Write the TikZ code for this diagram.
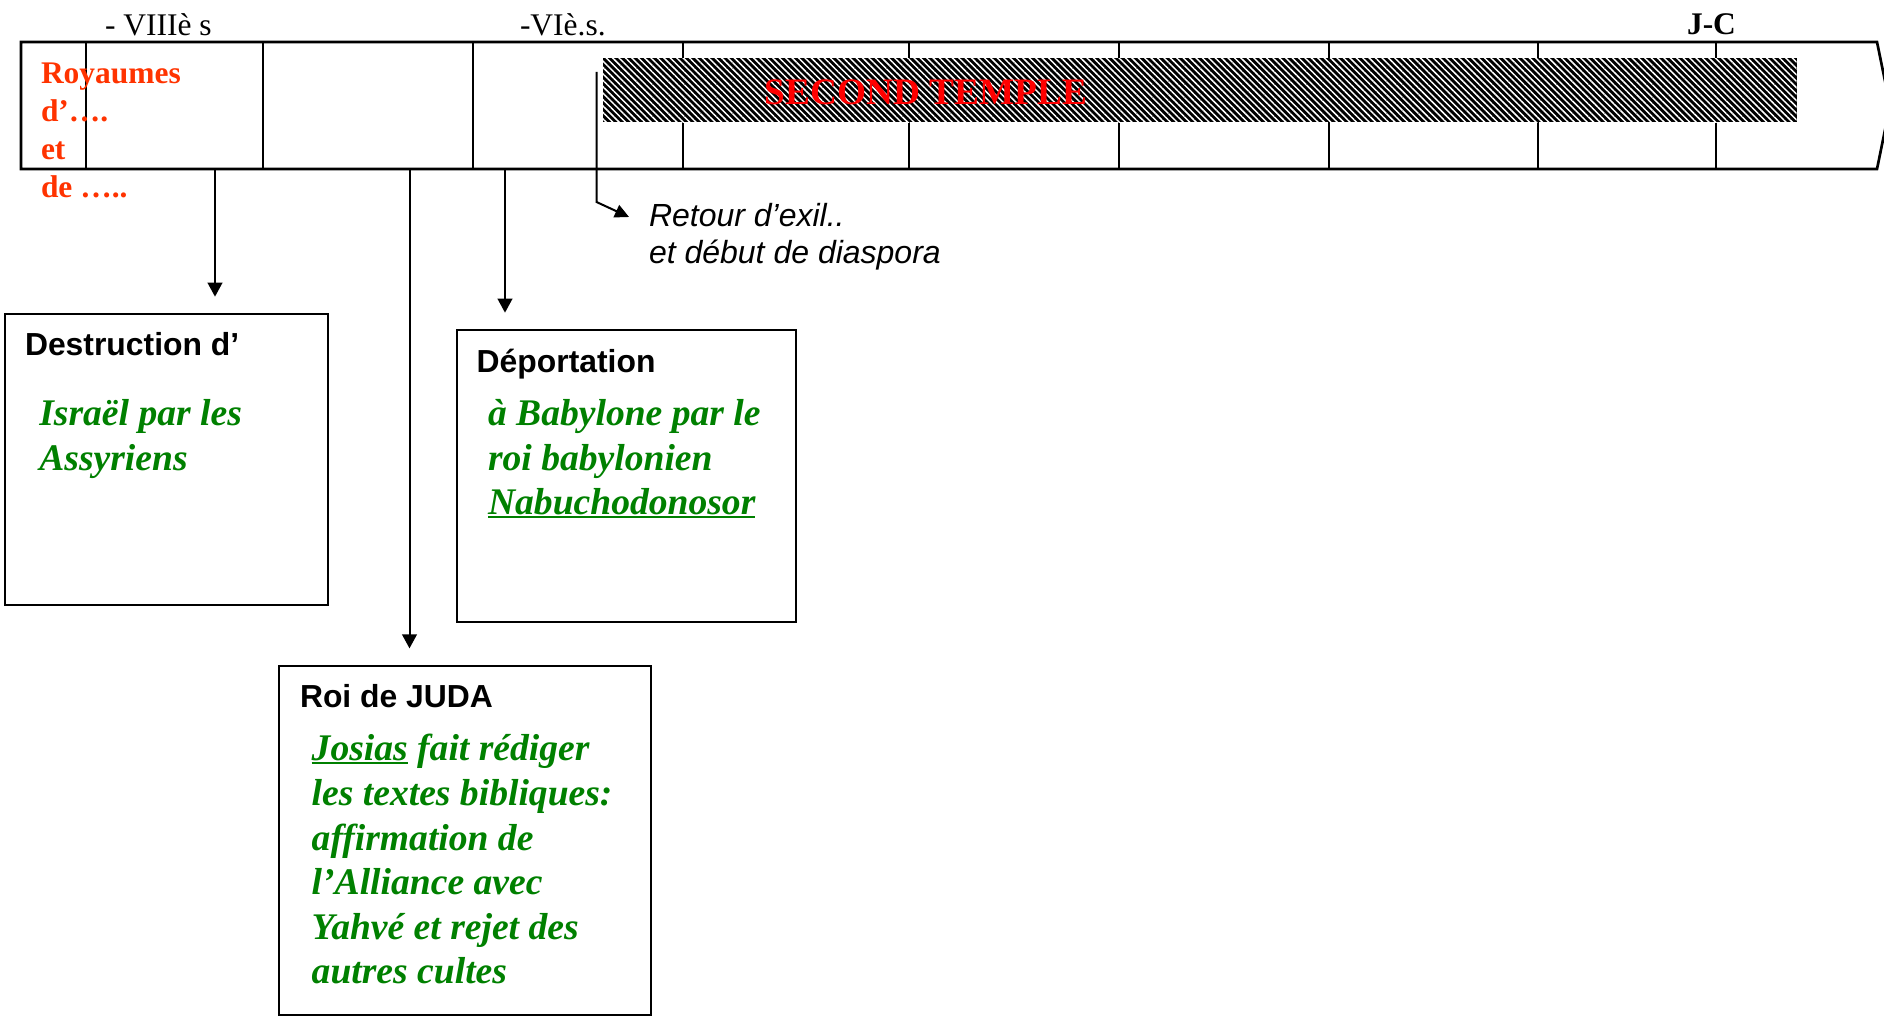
\documentclass[tikz,border=0pt]{standalone}
\usepackage{fontspec}
\setmainfont{Liberation Serif}
\newfontfamily\arialfont{Liberation Sans}
\usetikzlibrary{arrows.meta,patterns.meta,fit}
\definecolor{grn}{RGB}{0,128,0}
\definecolor{roy}{RGB}{255,51,0}
\definecolor{tred}{RGB}{255,0,0}
\newcommand{\myul}[1]{\setbox0=\hbox{#1}\rlap{\rule[-0.11em]{\wd0}{0.055em}}\box0\relax}
\begin{document}
\begin{tikzpicture}[x=0.75pt,y=-0.75pt,
  lbl/.style={inner sep=0pt, outer sep=0pt, anchor=base west},
  timesR/.style={font=\fontsize{23.6}{28}\selectfont},
  timesB/.style={font=\fontsize{23.6}{28}\selectfont\bfseries},
  roytxt/.style={font=\fontsize{23.6}{28}\selectfont\bfseries, text=roy},
  headtxt/.style={font=\arialfont\bfseries\fontsize{23.9}{28}\selectfont},
  gtxt/.style={font=\fontsize{28.2}{33}\selectfont\bfseries\itshape, text=grn},
  italtxt/.style={font=\arialfont\itshape\fontsize{24}{28}\selectfont},
  boxstyle/.style={draw, line width=1.75pt, inner sep=0pt, outer sep=0pt},
  divider/.style={line width=1.5pt},
  arr/.style={-{Triangle[length=10.5pt,width=11pt]}, line width=1.5pt, shorten >=13pt},
  arrfree/.style={-{Triangle[length=10.5pt,width=10pt]}, line width=1.5pt}
]
\useasboundingbox (0,0) rectangle (1884,1016);

% timeline
\coordinate (tA) at (21,42);
\coordinate (tB) at (1877,42);
\coordinate (tC) at (1890,105.5);
\coordinate (tD) at (1877,169);
\coordinate (tE) at (21,169);
\foreach \x in {85.5,263.3,473.3,683,908.8,1118.8,1328.8,1538.2,1716}
  \draw[divider] (\x,42) -- (\x,169);
\draw[line width=2pt, line join=miter] (tA) -- (tB) -- (tC) -- (tD) -- (tE) -- cycle;

% hatched band
\coordinate (h1) at (603,58.3);
\coordinate (h2) at (1796.5,122.5);
\fill[black] (h1) rectangle (h2);
\fill[pattern={Lines[angle=-45,distance=3.4pt,line width=1.1pt]}, pattern color=white] (h1) rectangle (h2);
\node[inner sep=0pt, anchor=base, font=\fontsize{28}{33}\selectfont\bfseries, text=tred] (st) at (926,105) {SECOND TEMPLE};

% dates
\node[lbl,timesR] (v8) at (105,36) {- VIIIè s};
\node[lbl,timesR] (v6) at (520,36) {-VIè.s.};
\node[lbl,timesB] (jc) at (1687,35) {J-C};

% royaumes
\node[lbl,roytxt] (ry1) at (41,84) {Royaumes};
\node[lbl,roytxt] (ry2) at (41,122) {d’….};
\node[lbl,roytxt] (ry3) at (41,160) {et};
\node[lbl,roytxt] (ry4) at (41,198) {de …..};

% boxes
\node[boxstyle, fit={(4.7,314) (327.7,605)}] (b1) {};
\node[boxstyle, fit={(456.7,330) (796,621.7)}] (b2) {};
\node[boxstyle, fit={(279,665.7) (651,1015)}] (b3) {};

% box 1 text
\node[lbl,headtxt] (b1h) at (25,355.7) {Destruction d’};
\node[lbl,gtxt] (b1a) at (39.3,425) {Israël par les};
\node[lbl,gtxt] (b1b) at (39.3,470) {Assyriens};

% box 2 text
\node[lbl,headtxt] (b2h) at (476.7,372.7) {Déportation};
\node[lbl,gtxt] (b2a) at (488,425) {à Babylone par le};
\node[lbl,gtxt] (b2b) at (488,470) {roi babylonien};
\node[lbl,gtxt] (b2c) at (488,514) {\myul{Nabuchodonosor}};

% box 3 text
\node[lbl,headtxt] (b3h) at (300,707.7) {Roi de JUDA};
\node[lbl,gtxt] (b3a) at (311.7,760) {\myul{Josias} fait rédiger};
\node[lbl,gtxt] (b3b) at (311.7,805) {les textes bibliques:};
\node[lbl,gtxt] (b3c) at (311.7,850) {affirmation de};
\node[lbl,gtxt] (b3d) at (311.7,894) {l’Alliance avec};
\node[lbl,gtxt] (b3e) at (311.7,939) {Yahvé et rejet des};
\node[lbl,gtxt] (b3f) at (311.7,983) {autres cultes};

% retour text
\node[lbl,italtxt] (rt1) at (649,227) {Retour d’exil..};
\node[lbl,italtxt] (rt2) at (649,264) {et début de diaspora};

% connectors
\coordinate (c1) at (215,169);
\coordinate (c2) at (409.5,169);
\coordinate (c3) at (505,169);
\draw[arr] (c1) -- (c1 |- b1.north);
\draw[arr] (c2) -- (c2 |- b3.north);
\draw[arr] (c3) -- (c3 |- b2.north);
\coordinate (r0) at (596.5,72);
\coordinate (r1) at (596.5,202);
\coordinate (r2) at (629,217);
\draw[arrfree] (r0) -- (r1) -- (r2);
\end{tikzpicture}
\end{document}
